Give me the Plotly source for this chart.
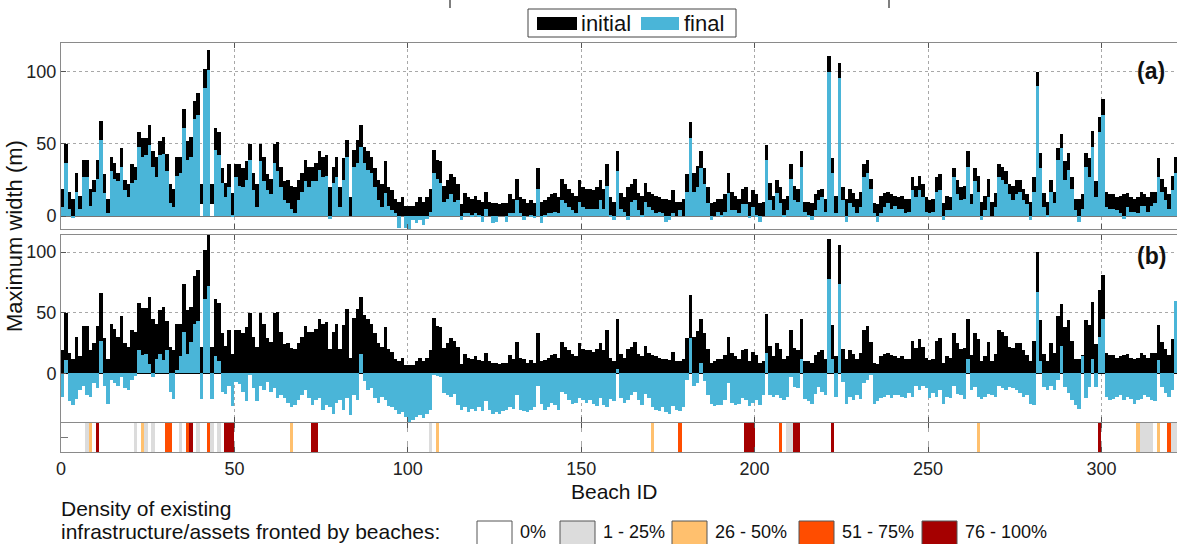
import plotly.graph_objects as go

# ---------------- data ----------------
beach_id = list(range(1, 323))

initial = [
    19, 50, 17, 12, 30, 14, 39, 39, 19, 25,
    39, 66, 29, 12, 41, 37, 30, 47, 25, 22,
    36, 34, 58, 54, 54, 63, 45, 41, 52, 55,
    43, 22, 19, 41, 41, 74, 52, 55, 80, 85,
    22, 102, 115, 22, 61, 58, 33, 23, 36, 16,
    36, 36, 33, 38, 50, 30, 22, 50, 41, 29,
    26, 50, 51, 34, 24, 25, 21, 20, 25, 30,
    39, 34, 34, 37, 45, 41, 42, 20, 34, 41,
    20, 40, 53, 13, 46, 53, 63, 48, 45, 41,
    33, 25, 22, 38, 20, 18, 12, 10, 13, 7,
    7, 7, 10, 13, 10, 13, 19, 46, 39, 38,
    21, 25, 29, 27, 22, 8, 16, 13, 12, 14,
    11, 10, 17, 10, 9, 9, 8, 9, 9, 15,
    12, 26, 13, 12, 9, 11, 9, 33, 10, 11,
    13, 15, 16, 13, 26, 22, 19, 16, 14, 25,
    20, 19, 19, 18, 20, 25, 19, 36, 13, 10,
    45, 16, 13, 20, 22, 26, 16, 14, 23, 17,
    15, 14, 13, 12, 12, 11, 18, 10, 10, 12,
    29, 65, 30, 35, 45, 33, 20, 9, 10, 12,
    12, 15, 30, 17, 14, 12, 19, 20, 10, 18,
    15, 9, 10, 49, 23, 14, 25, 20, 12, 14,
    36, 21, 19, 45, 10, 10, 9, 15, 18, 19,
    12, 111, 40, 14, 106, 20, 12, 19, 16, 12,
    17, 36, 39, 26, 9, 8, 14, 16, 17, 15,
    14, 13, 14, 12, 12, 27, 21, 28, 22, 13,
    11, 12, 27, 29, 9, 14, 13, 33, 25, 20,
    21, 45, 15, 33, 28, 10, 14, 26, 10, 16,
    36, 34, 31, 22, 21, 25, 25, 19, 15, 10,
    27, 100, 44, 16, 10, 25, 17, 47, 57, 38,
    44, 27, 12, 12, 15, 44, 40, 59, 24, 69,
    81, 17, 15, 15, 13, 14, 15, 16, 13, 12,
    13, 17, 15, 13, 17, 17, 40, 26, 20, 15, 28, 41,
]

final_a = [
    6, 37, 5, -1, 17, 5, 27, 27, 7, 17,
    26, 53, 16, 2, 31, 26, 24, 34, 18, 13,
    23, 25, 48, 41, 42, 49, 34, 27, 42, 43,
    31, 9, 6, 28, 30, 61, 39, 41, 67, 70,
    8, 89, 101, 8, 46, 42, 23, 13, 20, 1,
    27, 21, 20, 25, 39, 18, 6, 38, 24, 18,
    15, 37, 31, 20, 11, 9, 5, 2, 11, 17,
    24, 20, 24, 24, 32, 27, 28, -2, 23, 27,
    6, 25, 41, 0, 34, 37, 48, 37, 32, 30,
    20, 11, 6, 16, 7, 4, 2, -8, 0, -8,
    -10, -3, -5, -3, -6, -2, 3, 30, 26, 23,
    10, 12, 15, 10, 11, -3, 2, 2, 1, 2,
    1, -4, 5, 0, -5, -4, 0, 0, -4, 2,
    2, 11, 2, -3, 0, 1, -1, 19, -5, 1,
    2, 2, 3, 2, 11, 9, 6, 4, 2, 10,
    6, 5, 5, 5, 5, 11, 5, 21, 1, -3,
    31, 5, 3, -3, 10, 11, 4, 1, 10, 6,
    4, 2, 3, 2, -4, -3, 2, 0, 4, 0,
    17, 54, 17, 20, 33, 22, 9, -3, 0, 3,
    1, 3, 16, 4, 4, 2, 8, 8, -1, 6,
    1, -4, 0, 39, 11, 4, 16, 9, 1, 4,
    26, 11, 10, 34, 3, 1, -3, 4, 11, 13,
    3, 100, 30, 2, 96, 11, -4, 9, 6, 2,
    6, 27, 30, 19, 2, -4, 2, 6, 9, 5,
    7, 5, 5, 2, 3, 18, 13, 18, 13, 3,
    2, 3, 17, 18, -3, 4, 4, 27, 15, 11,
    12, 34, 8, 24, 17, -3, 4, 13, 0, 6,
    27, 25, 22, 15, 11, 15, 17, 11, 8, -3,
    17, 90, 33, 6, 1, 17, 9, 39, 47, 25,
    32, 19, 4, -4, 5, 34, 27, 48, 13, 58,
    70, 6, 5, 5, 4, 2, -2, 6, 3, 3,
    2, 7, 7, 3, 7, 9, 27, 17, 11, 5, 18, 30,
]

final_b = [
    -19, 11, -23, -26, -21, -14, -10, -18, -19, -8,
    -12, 27, -10, -25, -5, -8, -10, -3, -12, -14,
    -5, -2, 19, 15, 16, 8, -3, 12, 16, 11,
    19, -15, -21, 3, 14, 34, 16, 26, 41, 43,
    -21, 61, 72, -21, 14, 10, -15, -17, -10, -27,
    -7, -9, -15, -23, -1, -12, -23, -10, -14, -7,
    -15, -12, -20, -18, -20, -24, -28, -26, -22, -18,
    -14, -20, -26, -22, -20, -30, -26, -28, -33, -24,
    -22, -30, -20, -34, -18, -22, 16, -6, -14, -12,
    -20, -24, -19, -22, -27, -28, -30, -33, -32, -36,
    -40, -38, -36, -34, -37, -33, -30, -1, -2, -3,
    -16, -18, -19, -17, -26, -30, -28, -32, -29, -31,
    -28, -31, -23, -30, -33, -32, -33, -31, -30, -28,
    -29, -18, -30, -31, -32, -30, -28, -10, -25, -30,
    -28, -24, -26, -30, -15, -17, -22, -25, -24, -20,
    -22, -24, -22, -25, -27, -20, -26, -28, -21, -23,
    4, -20, -24, -22, -18, -15, -22, -26, -17, -20,
    -28, -30, -31, -28, -32, -33, -27, -30, -31, -28,
    -5, 29, -10, -8, 9, -6, -18, -25, -27, -26,
    -26, -22, -8, -24, -26, -25, -20, -22, -27, -24,
    -22, -26, -18, 17, -18, -19, -18, -20, -22, -19,
    -3, -11, -12, 12, -21, -23, -25, -17, -11, -15,
    -18, 78, 12, -19, 74, -7, -25, -19, -22, -18,
    -21, -8, -5, -1, -25, -23, -20, -19, -18, -20,
    -18, -18, -19, -20, -16, -19, -10, -14, -10, -12,
    -20, -16, -19, -14, -25, -19, -20, -10, -17, -18,
    -21, 12, -14, -11, -19, -21, -19, -17, -18, -19,
    -10, -12, -14, -11, -12, -14, -16, -19, -18, -25,
    -26, 67, 10, -11, -14, -10, -14, -5, 23, -11,
    -16, -22, -26, -29, 14, -20, -11, 12, -11, 30,
    45, -19, -22, -21, -19, -18, -22, -19, -21, -25,
    -22, -21, -18, -19, -22, -23, 11, -11, -16, -19, -14, 60,
]

# beaches in panel (a) whose final bar is not drawn (black segment floats)
no_final_a = [41, 44]

# infrastructure density classes (beach IDs)
infra_1_25 = [8, 22, 25, 27, 35, 40, 44, 46, 107, 210, 211, 312, 313, 314, 315, 321, 322]
infra_26_50 = [9, 24, 67, 109, 171, 265, 311, 317]
infra_51_75 = [31, 32, 37, 43, 179, 208, 320]
infra_76_100 = [11, 38, 48, 49, 50, 73, 74, 198, 199, 200, 212, 213, 223, 300]

x_ticks = [0, 50, 100, 150, 200, 250, 300]
y_ticks = [0, 50, 100]

assert len(initial) == len(final_a) == len(final_b) == len(beach_id)

# ---------------- styling ----------------
BLUE = "#4AB5D8"
FRAME = "#8a8a8a"
GRID = "#a8a8a8"
FONT = "Liberation Sans, Arial, sans-serif"
COL_1 = "#DCDCDC"
COL_2 = "#FFC06E"
COL_3 = "#FF4D00"
COL_4 = "#A50000"

W, H = 1177, 544
L, T, B_PIX = 61, 43, 452
PW, PH = W - L, B_PIX - T


def px(xp):
    return (xp - L) / PW


def py(yp):
    return (B_PIX - yp) / PH


x_pos = [b - 0.5 for b in beach_id]
base_a = [fa if b in no_final_a else 0 for b, fa in zip(beach_id, final_a)]
black_a = [i - bs for i, bs in zip(initial, base_a)]
blue_a = [0 if b in no_final_a else fa for b, fa in zip(beach_id, final_a)]

fig = go.Figure()
common = dict(width=1.0, showlegend=False, hoverinfo="skip")
fig.add_bar(x=x_pos, y=black_a, base=base_a, marker=dict(color="black", line=dict(width=0)),
            xaxis="x", yaxis="y", name="initial", **common)
fig.add_bar(x=x_pos, y=blue_a, marker=dict(color=BLUE, line=dict(width=0)),
            xaxis="x", yaxis="y", name="final", **common)
fig.add_bar(x=x_pos, y=initial, marker=dict(color="black", line=dict(width=0)),
            xaxis="x2", yaxis="y2", name="initial", **common)
fig.add_bar(x=x_pos, y=final_b, marker=dict(color=BLUE, line=dict(width=0)),
            xaxis="x2", yaxis="y2", name="final", **common)

for ids, col in [(infra_1_25, COL_1), (infra_26_50, COL_2), (infra_51_75, COL_3), (infra_76_100, COL_4)]:
    fig.add_bar(x=[i - 0.5 for i in ids], y=[1] * len(ids), marker=dict(color=col, line=dict(width=0)),
                xaxis="x3", yaxis="y3", **common)

XR = [0, PW / 3.468]
xcommon = dict(range=XR, tickvals=x_ticks, showgrid=True, gridcolor=GRID, gridwidth=1,
               showline=True, linecolor=FRAME, linewidth=1, mirror="ticks", ticks="inside",
               ticklen=5, tickcolor="#555", zeroline=False)
ycommon = dict(tickvals=y_ticks, showgrid=True, gridcolor=GRID, griddash="dot", gridwidth=1,
               showline=True, linecolor=FRAME, linewidth=1, ticks="inside", ticklen=5,
               tickcolor="#555", tickfont=dict(size=18, color="#222", family=FONT))

fig.update_layout(
    width=W, height=H, margin=dict(l=L, r=0, t=T, b=H - B_PIX),
    paper_bgcolor="white", plot_bgcolor="white", barmode="overlay", bargap=0,
    font=dict(family=FONT, color="#111"),
    xaxis=dict(domain=[0, 1], anchor="y", showticklabels=False, griddash="dot", **xcommon),
    yaxis=dict(domain=[py(229), 1], range=[-9, 120], zeroline=True, zerolinecolor="#777",
               zerolinewidth=1, **ycommon),
    xaxis2=dict(domain=[0, 1], anchor="y2", showticklabels=False, griddash="dot", **xcommon),
    yaxis2=dict(domain=[py(422), py(235)], range=[-40, 114], zeroline=True, zerolinecolor="black",
                zerolinewidth=1.5, **ycommon),
    xaxis3=dict(domain=[0, 1], anchor="y3", showticklabels=True, griddash="dash",
                tickfont=dict(size=18, color="#222", family=FONT), **xcommon),
    yaxis3=dict(domain=[0, py(423)], range=[0, 1], tickvals=[0.5], ticktext=[""], ticks="inside",
                ticklen=7, tickcolor="#777", showgrid=False, zeroline=False, showline=True,
                linecolor=FRAME, linewidth=1),
)

shapes = []
ann = []


def text_at(xp, yp, text, size=22, xanchor="center", **kw):
    ann.append(dict(x=px(xp), y=py(yp), xref="paper", yref="paper", text=text, showarrow=False,
                    xanchor=xanchor, yanchor="middle",
                    font=dict(size=size, family=FONT, color="#111"), **kw))


# axis titles
text_at(14, 236, "Maximum width (m)", textangle=-90)
text_at(614, 491, "Beach ID", size=21)
# panel labels
text_at(1151, 71, "<b>(a)</b>", size=23)
text_at(1151, 256, "<b>(b)</b>", size=23)

# top legend (initial / final)
shapes.append(dict(type="rect", xref="paper", yref="paper", x0=px(528), x1=px(736), y0=py(37), y1=py(9),
                   line=dict(color="#444", width=1), fillcolor="white"))
shapes.append(dict(type="rect", xref="paper", yref="paper", x0=px(537), x1=px(577), y0=py(30), y1=py(17),
                   line=dict(width=0), fillcolor="black"))
shapes.append(dict(type="rect", xref="paper", yref="paper", x0=px(641), x1=px(679), y0=py(30), y1=py(17),
                   line=dict(width=0), fillcolor=BLUE))
text_at(579, 23, "initial", xanchor="left")
text_at(682, 23, "final", xanchor="left")

# stray marks at top edge
for xm in (450, 889):
    shapes.append(dict(type="line", xref="paper", yref="paper", x0=px(xm), x1=px(xm), y0=py(8), y1=py(0),
                       line=dict(color="#555", width=1.5)))

# bottom density legend
text_at(59, 508, "Density of existing", size=21, xanchor="left")
text_at(59, 531, "infrastructure/assets fronted by beaches:", size=21, xanchor="left")
legend_items = [("0%", "white", 477), ("1 - 25%", COL_1, 560), ("26 - 50%", COL_2, 672),
                ("51 - 75%", COL_3, 799), ("76 - 100%", COL_4, 922)]
for label, col, x0 in legend_items:
    shapes.append(dict(type="rect", xref="paper", yref="paper", x0=px(x0), x1=px(x0 + 35),
                       y0=py(546), y1=py(521), line=dict(color="#555", width=1), fillcolor=col))
    text_at(x0 + 41, 532, label, size=18, xanchor="left")

fig.update_layout(shapes=shapes, annotations=ann)
fig.write_html("out.html")
